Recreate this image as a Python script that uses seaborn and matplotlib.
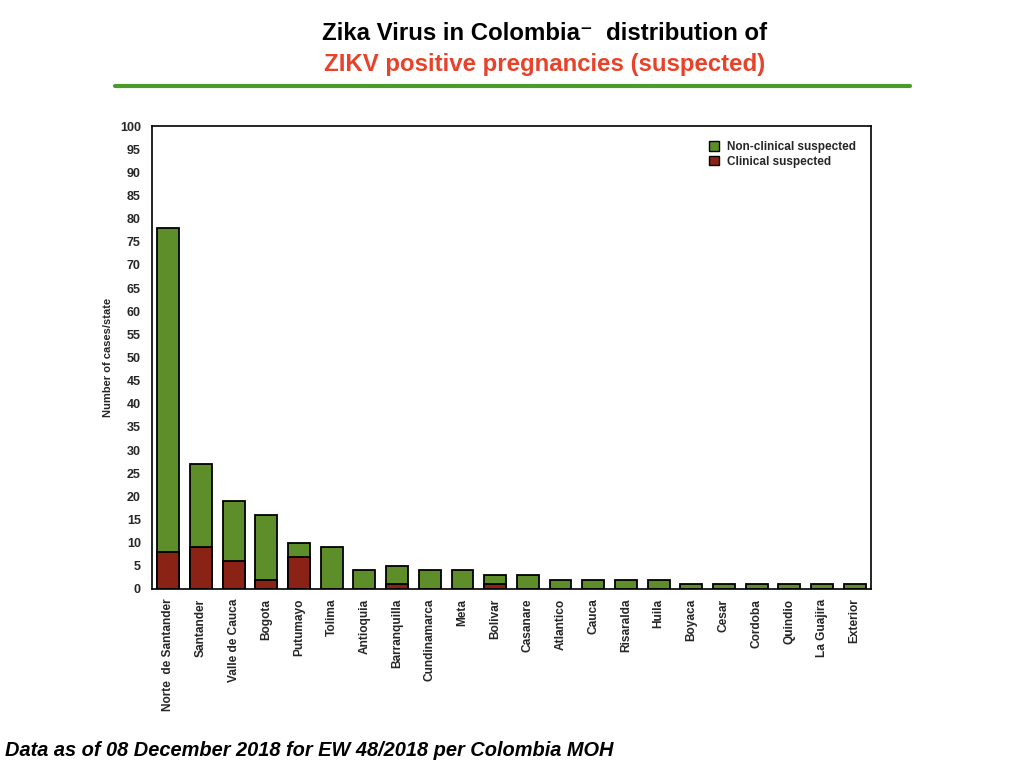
import matplotlib
matplotlib.use("Agg")
import matplotlib.pyplot as plt
import seaborn as sns
import pandas as pd
from matplotlib.patches import Patch
from matplotlib.lines import Line2D

states = ["Norte  de Santander", "Santander", "Valle de Cauca", "Bogota", "Putumayo",
          "Tolima", "Antioquia", "Barranquilla", "Cundinamarca", "Meta", "Bolivar",
          "Casanare", "Atlantico", "Cauca", "Risaralda", "Huila", "Boyaca", "Cesar",
          "Cordoba", "Quindio", "La Guajira", "Exterior"]
total = [78, 27, 19, 16, 10, 9, 4, 5, 4, 4, 3, 3, 2, 2, 2, 2, 1, 1, 1, 1, 1, 1]
clinical = [8, 9, 6, 2, 7, 0, 0, 1, 0, 0, 1, 0, 0, 0, 0, 0, 0, 0, 0, 0, 0, 0]
yticks = list(range(0, 101, 5))

GREEN = "#5E8E2A"
RED = "#8A2215"

df = pd.DataFrame({"state": states, "total": total, "clinical": clinical})

sns.set_theme(style="white")
plt.rcParams["font.family"] = ["Liberation Sans", "DejaVu Sans"]
plt.rcParams["font.weight"] = "bold"

fig = plt.figure(figsize=(10.24, 7.68), dpi=100)
ax = fig.add_axes([0.1484, 0.2331, 0.7022, 0.6028])

sns.barplot(data=df, x="state", y="total", color=GREEN, saturation=1,
            edgecolor="black", linewidth=1.3, width=0.67, ax=ax)
sns.barplot(data=df, x="state", y="clinical", color=RED, saturation=1,
            edgecolor="black", linewidth=1.3, width=0.67, ax=ax)

ax.set_ylim(0, 100)
ax.set_xlim(-0.5, len(states) - 0.5)
ax.set_yticks(yticks)
ax.set_yticklabels([str(t) for t in yticks], fontsize=9, fontweight="bold")
ax.set_xticks(range(len(states)))
ax.set_xticklabels(states, rotation=90, fontsize=8.6, fontweight="bold", va="top")
ax.tick_params(axis="y", length=0, pad=8)
ax.tick_params(axis="x", length=0, pad=7)
ax.set_xlabel("")
ax.set_ylabel("Number of cases/state", fontsize=8, fontweight="bold", labelpad=5)
for s in ax.spines.values():
    s.set_color("black")
    s.set_linewidth(1.2)

handles = [Patch(facecolor=GREEN, edgecolor="black", label="Non-clinical suspected"),
           Patch(facecolor=RED, edgecolor="black", label="Clinical suspected")]
ax.legend(handles=handles, loc="upper right", bbox_to_anchor=(0.99, 0.985), frameon=False,
          prop={"size": 8.5, "weight": "bold"}, handlelength=0.9, handleheight=0.9,
          handletextpad=0.6, labelspacing=0.2, borderaxespad=0.3)

fig.text(0.532, 0.957, "Zika Virus in Colombia\u207b  distribution of", ha="center", va="center",
         fontsize=17.3, fontweight="bold", color="black")
fig.text(0.532, 0.916, "ZIKV positive pregnancies (suspected)", ha="center", va="center",
         fontsize=17.3, fontweight="bold", color="#E8432A")
fig.add_artist(Line2D([0.112, 0.889], [0.888, 0.888], transform=fig.transFigure,
                      color="#4A9A2C", linewidth=3))
fig.text(0.005, 0.023, "Data as of 08 December 2018 for EW 48/2018 per Colombia MOH",
         ha="left", va="center", fontsize=14.4, fontweight="bold", style="italic", color="black")

fig.savefig("out.png", dpi=100)
